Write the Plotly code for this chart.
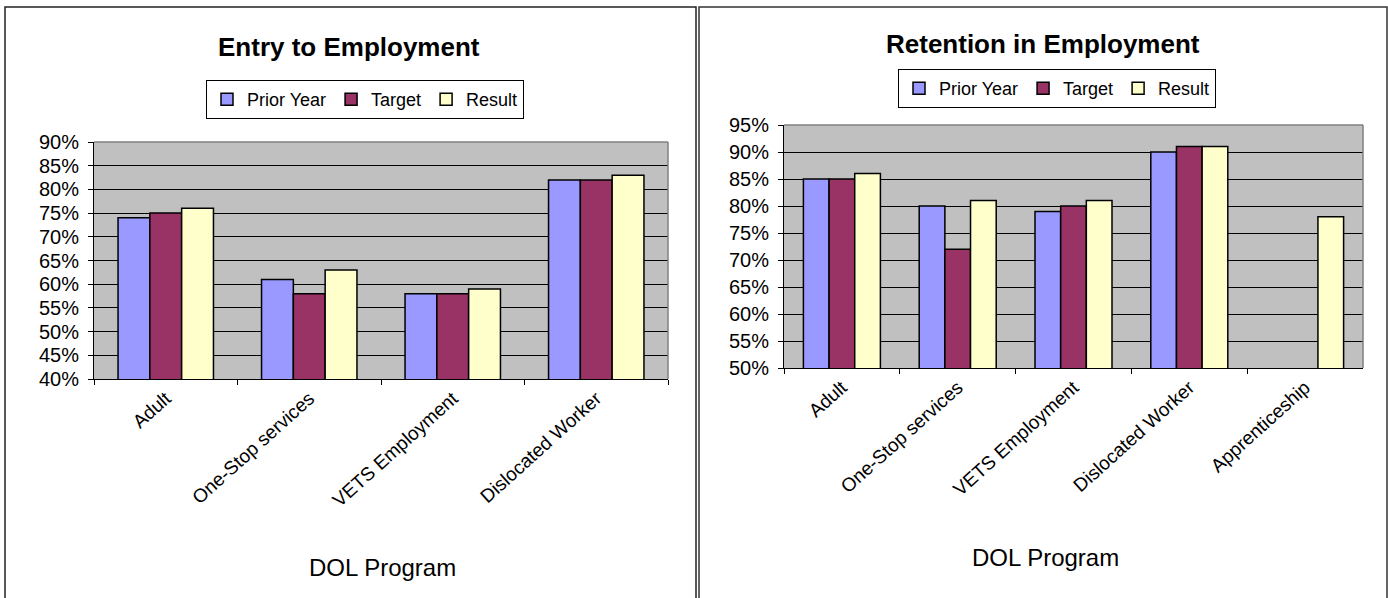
import plotly.graph_objects as go

# ---- data ----
series_names = ["Prior Year", "Target", "Result"]
series_colors = ["#9999FF", "#993366", "#FFFFCC"]

entry_categories = ["Adult", "One-Stop services", "VETS Employment", "Dislocated Worker"]
entry_prior = [74, 61, 58, 82]
entry_target = [75, 58, 58, 82]
entry_result = [76, 63, 59, 83]

ret_categories = ["Adult", "One-Stop services", "VETS Employment", "Dislocated Worker", "Apprenticeship"]
ret_prior = [85, 80, 79, 90, None]
ret_target = [85, 72, 80, 91, None]
ret_result = [86, 81, 81, 91, 78]

entry_ticks = [40, 45, 50, 55, 60, 65, 70, 75, 80, 85, 90]
entry_tick_labels = ["40%", "45%", "50%", "55%", "60%", "65%", "70%", "75%", "80%", "85%", "90%"]
ret_ticks = [50, 55, 60, 65, 70, 75, 80, 85, 90, 95]
ret_tick_labels = ["50%", "55%", "60%", "65%", "70%", "75%", "80%", "85%", "90%", "95%"]

W, H = 1388, 598
FONT = "Liberation Sans, Arial, sans-serif"


def px(x):
    return x / W


def py(y):
    return 1 - y / H


fig = go.Figure()

for name, color, vals in zip(series_names, series_colors, [entry_prior, entry_target, entry_result]):
    fig.add_trace(go.Bar(
        x=entry_categories, y=vals, name=name, xaxis="x", yaxis="y",
        marker=dict(color=color, line=dict(color="black", width=1.5)),
        legend="legend",
    ))

for name, color, vals in zip(series_names, series_colors, [ret_prior, ret_target, ret_result]):
    fig.add_trace(go.Bar(
        x=ret_categories, y=vals, name=name, xaxis="x2", yaxis="y2",
        marker=dict(color=color, line=dict(color="black", width=1.5)),
        legend="legend2",
    ))

axis_common = dict(
    showline=True, linecolor="black", linewidth=1,
    ticks="outside", ticklen=5, tickcolor="black", tickwidth=1,
    automargin=False,
)

xaxis_common = dict(tickangle=-42, tickson="boundaries", showgrid=False,
                    tickfont=dict(family=FONT, size=19, color="black"), **axis_common)
yaxis_common = dict(tickmode="array", showgrid=True, gridcolor="black", gridwidth=1,
                    zeroline=False, ticklabelstandoff=5,
                    tickfont=dict(family=FONT, size=20, color="black"), **axis_common)

legend_common = dict(
    orientation="h", xanchor="left", yanchor="top",
    bordercolor="black", borderwidth=1, bgcolor="white",
    font=dict(family=FONT, size=18, color="black"), itemwidth=30,
    traceorder="normal",
)

fig.update_layout(
    width=W, height=H,
    margin=dict(l=0, r=0, t=0, b=0, pad=0, autoexpand=False),
    paper_bgcolor="white",
    plot_bgcolor="#C0C0C0",
    barmode="group",
    bargap=0.335,
    bargroupgap=0,
    font=dict(family=FONT, size=18, color="black"),
    xaxis=dict(domain=[px(94), px(668)], anchor="y", **xaxis_common),
    yaxis=dict(domain=[py(379), py(142)], anchor="x", range=[40, 90],
               tickvals=entry_ticks, ticktext=entry_tick_labels, **yaxis_common),
    xaxis2=dict(domain=[px(784), px(1363)], anchor="y2", **xaxis_common),
    yaxis2=dict(domain=[py(368), py(125)], anchor="x2", range=[50, 95],
                tickvals=ret_ticks, ticktext=ret_tick_labels, **yaxis_common),
    legend=dict(x=px(206), y=py(80), **legend_common),
    legend2=dict(x=px(898), y=py(69), **legend_common),
    annotations=[
        dict(text="<b>Entry to Employment</b>", x=px(349), y=py(47), xref="paper", yref="paper",
             xanchor="center", yanchor="middle", showarrow=False,
             font=dict(family=FONT, size=26, color="black")),
        dict(text="<b>Retention in Employment</b>", x=px(1043), y=py(44), xref="paper", yref="paper",
             xanchor="center", yanchor="middle", showarrow=False,
             font=dict(family=FONT, size=26, color="black")),
        dict(text="DOL Program", x=px(382), y=py(567), xref="paper", yref="paper",
             xanchor="center", yanchor="middle", showarrow=False,
             font=dict(family=FONT, size=24, color="black")),
        dict(text="DOL Program", x=px(1045), y=py(557), xref="paper", yref="paper",
             xanchor="center", yanchor="middle", showarrow=False,
             font=dict(family=FONT, size=24, color="black")),
    ],
    shapes=[
        # chart frames
        dict(type="rect", xref="paper", yref="paper", x0=px(5), x1=px(696), y0=py(602), y1=py(7),
             line=dict(color="#222222", width=1.5), layer="below"),
        dict(type="rect", xref="paper", yref="paper", x0=px(699), x1=px(1387), y0=py(602), y1=py(7),
             line=dict(color="#333333", width=1.5), layer="below"),
        # plot area top/right borders (gray)
        dict(type="line", xref="x domain", yref="y domain", x0=0, x1=1, y0=1, y1=1,
             line=dict(color="#808080", width=1.5), layer="above"),
        dict(type="line", xref="x domain", yref="y domain", x0=1, x1=1, y0=0, y1=1,
             line=dict(color="#808080", width=1.5), layer="above"),
        dict(type="line", xref="x2 domain", yref="y2 domain", x0=0, x1=1, y0=1, y1=1,
             line=dict(color="#808080", width=1.5), layer="above"),
        dict(type="line", xref="x2 domain", yref="y2 domain", x0=1, x1=1, y0=0, y1=1,
             line=dict(color="#808080", width=1.5), layer="above"),
    ],
)

fig.write_html("out.html")
